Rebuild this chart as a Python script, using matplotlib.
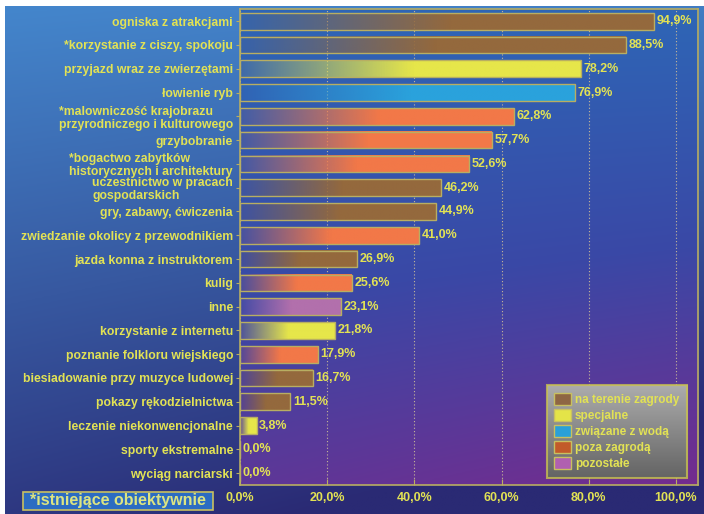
import numpy as np
import matplotlib
matplotlib.use("Agg")
import matplotlib.pyplot as plt
from matplotlib.colors import to_rgb
from matplotlib.patches import Patch, Rectangle

plt.rcParams['font.family'] = ['Liberation Sans', 'DejaVu Sans']
plt.rcParams['font.weight'] = 'bold'

# dane
labels = [
    "ogniska z atrakcjami",
    "*korzystanie z ciszy, spokoju",
    "przyjazd wraz ze zwierzętami",
    "łowienie ryb",
    "*malowniczość krajobrazu\nprzyrodniczego i kulturowego",
    "grzybobranie",
    "*bogactwo zabytków\nhistorycznych i architektury",
    "uczestnictwo w pracach\ngospodarskich",
    "gry, zabawy, ćwiczenia",
    "zwiedzanie okolicy z przewodnikiem",
    "jazda konna z instruktorem",
    "kulig",
    "inne",
    "korzystanie z internetu",
    "poznanie folkloru wiejskiego",
    "biesiadowanie przy muzyce ludowej",
    "pokazy rękodzielnictwa",
    "leczenie niekonwencjonalne",
    "sporty ekstremalne",
    "wyciąg narciarski",
]
values = [94.9, 88.5, 78.2, 76.9, 62.8, 57.7, 52.6, 46.2, 44.9, 41.0,
          26.9, 25.6, 23.1, 21.8, 17.9, 16.7, 11.5, 3.8, 0.0, 0.0]
# 0 - na terenie zagrody, 1 - specjalne, 2 - woda, 3 - poza zagroda, 4 - pozostale
groups = [0, 0, 1, 2, 3, 3, 3, 0, 0, 3, 0, 3, 4, 1, 3, 0, 0, 1, 0, 0]

group_names = ["na terenie zagrody", "specjalne", "związane z wodą",
               "poza zagrodą", "pozostałe"]
group_colors = ["#94693d", "#e6e64a", "#2aa2dc", "#f27848", "#b270ac"]
legend_colors = ["#8e6644", "#e4e448", "#2aa0d8", "#c25a2a", "#b060b0"]

ticks = [0, 20, 40, 60, 80, 100]

txt_color = "#e2e254"
line_color = "#b8ae62"

fig = plt.figure(figsize=(7.04, 5.14), dpi=100, facecolor="white")

# tlo calego obrazka
bg = fig.add_axes([5 / 704, 0, 699 / 704, 508 / 514], zorder=-5)
h_, w_ = 200, 200
tv = np.linspace(0, 1, h_)[:, None]
th = np.linspace(0, 1, w_)[None, :]
top_c = np.array(to_rgb("#4486cc"))
bot_c = np.array(to_rgb("#2a2a74"))
tt = np.clip(0.85 * tv + 0.25 * th * tv + 0.1 * th, 0, 1)[..., None]
bg.imshow(top_c * (1 - tt) + bot_c * tt, aspect="auto", extent=[0, 1, 0, 1])
bg.axis("off")

ax = fig.add_axes([240 / 704, 1 - 485 / 514, 458.3 / 704, 475.7 / 514])
ax.patch.set_alpha(0)

# tlo obszaru wykresu
p_top = np.array(to_rgb("#2e66b6"))
p_mid = np.array(to_rgb("#3a48a6"))
p_bot = np.array(to_rgb("#742c8e"))
tp = np.clip(0.8 * tv + 0.2 * th * tv, 0, 1)[..., None]
grad = np.where(tp < 0.5, p_top * (1 - tp / 0.5) + p_mid * (tp / 0.5),
                p_mid * (1 - (tp - 0.5) / 0.5) + p_bot * ((tp - 0.5) / 0.5))
ax.imshow(grad, aspect="auto", extent=[0, 1, 0, 1], transform=ax.transAxes,
          zorder=0)

y = np.arange(len(labels))
bar_h = 0.70

# slupki z gradientem
n = 256
ramp = np.clip(0.08 + np.linspace(0, 1, n) / 0.55, 0, 1)
for yi, v, g in zip(y, values, groups):
    if v <= 0:
        continue
    img = np.zeros((1, n, 4))
    img[..., :3] = to_rgb(group_colors[g])
    img[..., 3] = ramp
    ax.imshow(img, extent=[0, v, yi + bar_h / 2, yi - bar_h / 2],
              aspect="auto", interpolation="bilinear", zorder=2)
ax.barh(y, values, height=bar_h, fill=False, edgecolor=line_color,
        linewidth=1.0, zorder=3)

for yi, v in zip(y, values):
    ax.text(v + 0.6, yi, f"{v:.1f}".replace(".", ",") + "%", color=txt_color,
            fontsize=9, fontweight="bold", va="center", ha="left", zorder=4)

ax.set_xlim(0, 105.1)
ax.set_ylim(19.5, -0.5)
ax.set_yticks(y)
ax.set_yticklabels(labels, fontsize=8.8, fontweight="bold", color=txt_color,
                   linespacing=1.12, multialignment="left")
ax.set_xticks(ticks)
ax.set_xticklabels([f"{t:.1f}".replace(".", ",") + "%" for t in ticks],
                   fontsize=9, fontweight="bold", color=txt_color)
ax.tick_params(axis="y", length=3, color=line_color, pad=2)
ax.tick_params(axis="x", length=4, direction="in", color=line_color, pad=5)
ax.grid(axis="x", linestyle=(0, (1, 2)), color="#c8b898", linewidth=0.8,
        zorder=1)
for s in ax.spines.values():
    s.set_color(line_color)
    s.set_linewidth(1.2)
    s.set_zorder(5)

# legenda
handles = [Patch(facecolor=c, edgecolor="#c8c060", linewidth=1.0)
           for c in legend_colors]
leg = ax.legend(handles, group_names, loc="lower right",
                bbox_to_anchor=(0.975, 0.015), borderaxespad=0,
                prop={"size": 8.5, "weight": "bold"}, labelcolor=txt_color,
                handlelength=1.45, handleheight=1.25, labelspacing=0.24,
                handletextpad=0.3, borderpad=0.65, fancybox=False,
                frameon=True)
leg.get_frame().set_facecolor("none")
leg.get_frame().set_edgecolor("#c8c050")
leg.get_frame().set_linewidth(1.5)
leg.set_zorder(6)

fig.canvas.draw()
bb = leg.get_window_extent().transformed(ax.transAxes.inverted())
gray = np.linspace(0, 1, 100)[:, None, None]
g_img = np.array(to_rgb("#acacac")) * (1 - gray) + np.array(to_rgb("#646464")) * gray
ax.imshow(g_img, aspect="auto", extent=[bb.x0, bb.x1, bb.y0, bb.y1],
          transform=ax.transAxes, zorder=5.5)
ax.set_xlim(0, 105.1)
ax.set_ylim(19.5, -0.5)

# ramka z opisem
fig.patches.append(Rectangle((23 / 704, 1 - 510 / 514), 190 / 704, 18 / 514,
                             transform=fig.transFigure, facecolor="#2c6cc2",
                             edgecolor="#c8c060", linewidth=1.2))
fig.text(118 / 704, 1 - 501 / 514, "*istniejące obiektywnie", fontsize=11.5,
         fontweight="bold", color="#dce482", ha="center", va="center")

fig.savefig("out.png", dpi=100)
